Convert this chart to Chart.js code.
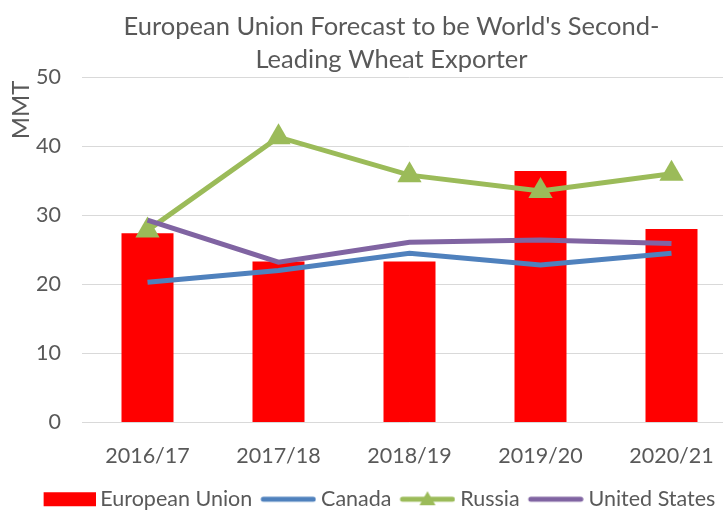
<!DOCTYPE html>
<html><head><meta charset="utf-8">
<script src="https://cdn.jsdelivr.net/npm/chart.js@4/dist/chart.umd.min.js"></script>
<style>html,body{margin:0;padding:0;overflow:hidden;background:#fff;width:723px;height:510px}
#wrap{position:absolute;left:0;top:0;width:760px;height:510px}</style>
</head><body>
<div id="wrap"><canvas id="c" width="760" height="510"></canvas></div>
<script>
const categories = ['2016/17','2017/18','2018/19','2019/20','2020/21'];
const euValues = [27.4, 23.3, 23.3, 36.4, 28.0];
const canadaValues = [20.3, 22.0, 24.5, 22.8, 24.5];
const russiaValues = [27.8, 41.3, 35.8, 33.5, 36.0];
const usValues = [29.3, 23.2, 26.1, 26.4, 25.9];
const yTicks = [0, 10, 20, 30, 40, 50];
const seriesNames = ['European Union','Canada','Russia','United States'];

const FONT = 'Lato, "Open Sans", sans-serif';
const TXT = '#595959';
const C_EU = '#FF0000', C_CA = '#4F81BD', C_RU = '#9BBB59', C_US = '#8064A2';

const ICON_W = 64;
function legendIcon(kind, color) {
  const cv = document.createElement('canvas');
  const h = 18;
  cv.width = ICON_W; cv.height = h;
  const g = cv.getContext('2d');
  if (kind === 'box') {
    g.fillStyle = color; g.fillRect(ICON_W - 52, 2, 52, 14);
  } else {
    const x0 = ICON_W - 56;
    g.strokeStyle = color; g.lineWidth = 5; g.lineCap = 'round';
    g.beginPath(); g.moveTo(x0 + 3, h/2); g.lineTo(ICON_W - 3, h/2); g.stroke();
    if (kind === 'tri') {
      const cx = x0 + 28;
      g.fillStyle = color;
      g.beginPath(); g.moveTo(cx, 1); g.lineTo(cx + 8, 15); g.lineTo(cx - 8, 15); g.closePath(); g.fill();
    }
  }
  return cv;
}
const icons = [legendIcon('box', C_EU), legendIcon('line', C_CA), legendIcon('tri', C_RU), legendIcon('line', C_US)];

const shiftPlugin = {
  id: 'shift',
  afterLayout(chart) {
    const t = chart.titleBlock; if (t) { t.left += 23; t.right += 23; }
    const l = chart.legend; if (l) { l.top += 10; l.bottom += 10; l.left += 8; l.right += 8; }
  }
};
const mmtPlugin = {
  id: 'mmt',
  afterDraw(chart) {
    const g = chart.ctx;
    g.save();
    g.translate(21, 110);
    g.rotate(-Math.PI/2);
    g.font = '24px ' + FONT;
    g.fillStyle = TXT;
    g.textAlign = 'center'; g.textBaseline = 'middle';
    g.fillText('MMT', 0, 0);
    g.restore();
  }
};

new Chart(document.getElementById('c'), {
  data: {
    labels: categories,
    datasets: [
      {type:'bar', label: seriesNames[0], data: euValues, backgroundColor: C_EU, borderWidth: 0,
        barPercentage: 1, categoryPercentage: 0.397, order: 4},
      {type:'line', label: seriesNames[1], data: canadaValues, borderColor: C_CA, backgroundColor: C_CA,
        borderWidth: 5, pointRadius: 0, tension: 0, order: 3},
      {type:'line', label: seriesNames[2], data: russiaValues, borderColor: C_RU, backgroundColor: C_RU,
        borderWidth: 5, pointRadius: 14, pointStyle: 'triangle', pointBorderWidth: 0, tension: 0, order: 2},
      {type:'line', label: seriesNames[3], data: usValues, borderColor: C_US, backgroundColor: C_US,
        borderWidth: 5, pointRadius: 0, tension: 0, order: 1}
    ]
  },
  options: {
    responsive: false, animation: false, devicePixelRatio: 1,
    layout: {padding: {left: 0, right: 23, top: 0, bottom: 0}},
    plugins: {
      title: {display: true, text: ["European Union Forecast to be World's Second-", 'Leading Wheat Exporter'],
        color: TXT, font: {family: FONT, size: 25.5, weight: 'normal', lineHeight: 1.314},
        padding: {top: 10, bottom: 0}},
      legend: {position: 'bottom',
        labels: {usePointStyle: true, pointStyleWidth: 52, color: TXT, padding: 6,
          font: {family: FONT, size: 21.5},
          generateLabels: (chart) => chart.data.datasets.map((ds, i) => ({
            text: ds.label, pointStyle: icons[i], datasetIndex: i, fontColor: TXT,
            fillStyle: 'rgba(0,0,0,0)', strokeStyle: 'rgba(0,0,0,0)', lineWidth: 0, hidden: false
          }))}},
      tooltip: {enabled: false}
    },
    scales: {
      x: {grid: {display: false}, border: {display: false},
        ticks: {color: TXT, font: {family: FONT, size: 21.5}, padding: 13},
        afterFit: (s) => { s.height = 50; }},
      y: {min: 0, max: 50, grid: {color: '#d9d9d9', lineWidth: 1, drawTicks: false}, border: {display: false},
        afterBuildTicks: (s) => { s.ticks = yTicks.map(v => ({value: v})); },
        ticks: {color: TXT, font: {family: FONT, size: 21.5}, padding: 21},
        afterFit: (s) => { s.width = 82; }}
    }
  },
  plugins: [shiftPlugin, mmtPlugin]
});
</script>
</body></html>
